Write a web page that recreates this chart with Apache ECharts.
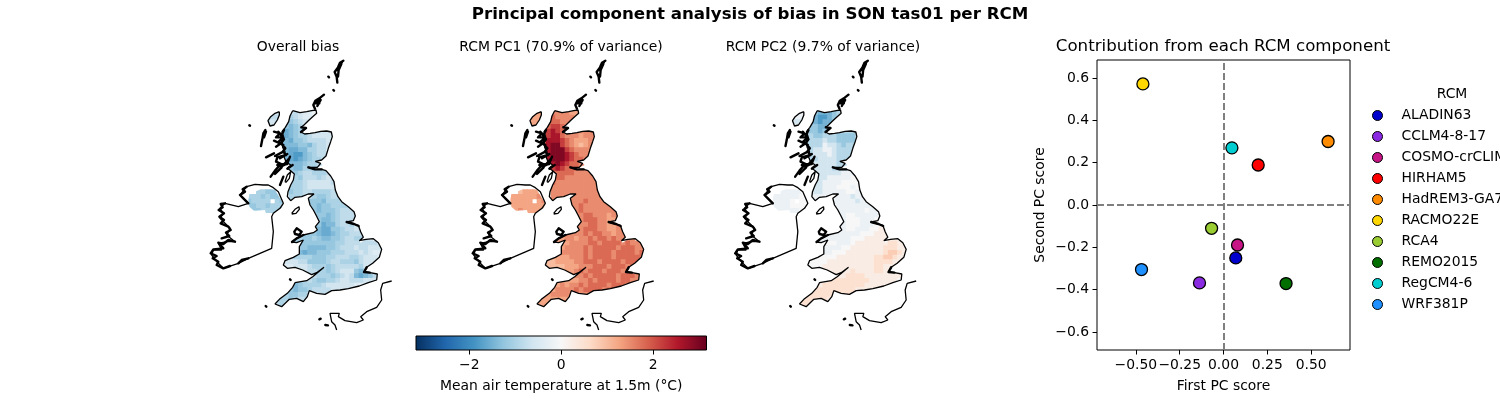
<!DOCTYPE html>
<html><head><meta charset="utf-8">
<style>html,body{margin:0;padding:0;background:#fff}#c{width:1500px;height:400px}</style>
<script src="https://cdn.jsdelivr.net/npm/echarts@6/dist/echarts.min.js"></script>
</head><body><div id="c"></div>
<script>
// ---- scatter data ----
const rcmNames=["ALADIN63","CCLM4-8-17","COSMO-crCLIM","HIRHAM5","HadREM3-GA7-05","RACMO22E","RCA4","REMO2015","RegCM4-6","WRF381P"];
const rcmColors=["#0000cd","#8a2be2","#c71585","#ff0000","#ff8c00","#ffd700","#9acd32","#006f00","#00ced1","#1e90ff"];
const pc1Scores=[0.07,-0.137,0.08,0.198,0.597,-0.46,-0.068,0.357,0.048,-0.468];
const pc2Scores=[-0.25,-0.368,-0.189,0.189,0.30,0.572,-0.11,-0.371,0.27,-0.305];
const xTicks=[-0.5,-0.25,0,0.25,0.5];
const yTicks=[-0.6,-0.4,-0.2,0,0.2,0.4,0.6];
const barTicks=[-2,0,2];
const rdbu=["#053061","#2166ac","#4393c3","#92c5de","#d1e5f0","#f7f7f7","#fddbc7","#f4a582","#d6604d","#b2182b","#67001f"];
// ---- gridded fields: class digit per cell, one string per row ----
const gbStart=[9,9,8,8,7,7,7,7,7,8,8,8,8,9,9,9,9,9,9,9,13,13,14,14,14,14,10,9,9,11,11,9,8,8,11,13,10,9,8,7,6,6];
const overallGB=["3432210","543221","565433","676544","787654444333","787655433333","778665444433","67776675443","67887755443","7899765443","789876554","677765544","5677556544","565445554","5564445433","5554333334","55543333334","65544555545","555445665445","555566675554","6676655554","66766654444","6667654444","66776544444","66877544533","778866544343","5566678876554443","555665677665445543","666666666655444444433","667777665444344333","7877666555444343222","455556665544455433322","333446666544555643332","2233345556544444533","334455654333676","345556543478764","555456655433444333","67655554333333222","567665444433333","4566554444","5556544","4544444"];
const pc1GB=["5555444","655554","666555","677655","678765555555","678865554555","688876544455","78997654345","78999765555","8999876555","899987665","889876655","7787666555","666665555","6665555555","6555555555","55555555555","55555555555","555555555555","555555565555","5565555555","55655555555","5566555455","55666554455","55566554455","556665544555","4455556566554555","444554556566565555","444455556656666565555","455556566666566655","5555565666656666565","444455565666656666665","334444556665666656665","3333444555666566656","444565666566656","555656666656665","444445565666656655","445455656666566655","445555656666566","4455555555","4444444","4444444"];
const pc2GB=["2111234","100123","210112","221112","322122333333","332233322223","333343322223","33335443233","33445543333","3444543333","334444333","444444333","5444433333","444444555","4445555566","4455556666","44555666566","44555556656","555555554555","555555555455","5555555555","55555556555","5566555555","55666555666","55666555666","556655566777","5555555556667777","555555556667777777","555665556777777788777","555566777777788877","5566677777777899877","666667777777788998776","666677777777778888776","6667777777777788777","777777877778877","777888877777777","778888888887777776","778888888887777777","888888888877777","8888888888","8888887","8888777"];
const niStart=[2,0,0,0,1];
const overallNI=["55666","55565665","65555.56","66556555","665555"];
const pc1NI=["34444","44444454","44444.45","44444444","454444"];
const pc2NI=["55555","55555565","55556.66","55556666","555556"];
const lewisStart=[4,4,4,4];
const overallLewis=["333","444","434","333"];
const pc1Lewis=["444","344","444","444"];
const pc2Lewis=["555","555","444","555"];
// class digit -> value (degC) for each panel
const overallLevels=[0,-0.2,-0.4,-0.6,-0.8,-1.0,-1.2,-1.4,-1.6,-1.8];
const pc1Levels=[0,0.3,0.6,1.0,1.25,1.5,1.8,2.2,2.6,2.95];
const pc2Levels=[-1.8,-1.5,-1.2,-0.9,-0.6,-0.2,0,0.25,0.5,0.8];
// ---- coastlines, in map units ----
const gbCoast=[[278,182],[300,188],[320,185],[335,182],[348,180],[350,190],[338,200],[325,212],[312,225],[304,232],[318,234],[303,246],[314,252],[330,250],[345,248],[362,244],[380,243],[394,246],[397,260],[392,275],[385,295],[378,318],[365,330],[346,334],[362,340],[368,345],[352,352],[325,352],[345,358],[365,358],[378,362],[392,378],[402,395],[406,420],[414,440],[425,455],[445,470],[462,485],[466,498],[460,512],[440,516],[462,522],[475,526],[482,545],[490,562],[478,572],[482,578],[498,568],[520,566],[535,578],[545,598],[538,622],[518,640],[500,652],[492,666],[510,668],[532,672],[530,690],[505,698],[478,708],[445,716],[420,720],[395,722],[375,733],[350,730],[328,722],[322,740],[310,755],[290,745],[268,748],[245,770],[225,762],[238,748],[262,730],[278,712],[285,698],[320,692],[338,680],[372,652],[350,668],[335,674],[308,660],[285,652],[262,655],[250,645],[255,632],[280,622],[298,612],[298,590],[310,570],[290,578],[276,576],[290,565],[310,555],[340,548],[352,540],[346,530],[358,515],[348,495],[340,480],[330,465],[325,445],[342,432],[325,432],[305,440],[285,442],[272,452],[262,440],[264,425],[272,405],[280,390],[283,372],[272,362],[262,355],[272,345],[258,335],[252,320],[255,305],[248,292],[246,275],[250,258],[246,245],[256,232],[266,215],[270,198],[278,182]];
const niClip=[[145,450],[148,432],[165,425],[185,416],[210,414],[225,420],[240,445],[250,460],[245,475],[235,480],[218,490],[198,490],[195,480],[162,482],[148,470],[145,450]];
const irelandCoast=[[140,410],[165,403],[190,405],[205,405],[220,413],[235,425],[250,460],[240,475],[220,490],[215,500],[220,545],[215,595],[180,610],[145,625],[115,640],[70,655],[55,640],[35,615],[40,600],[65,600],[55,580],[80,575],[105,575],[80,555],[90,535],[60,505],[70,490],[60,475],[75,460],[115,470],[145,460],[120,435],[140,410]];
const franceCoast=[[575,693],[548,700],[542,720],[545,750],[530,772],[500,785],[482,800],[490,810],[470,818],[435,812],[415,800],[418,790],[390,790],[395,815],[405,825],[410,840]];
const manCoast=[[275,490],[285,478],[297,470],[298,478],[288,490],[275,492]];
const lewisCoast=[[238,185],[225,190],[212,200],[204,212],[210,228],[222,225],[232,210],[238,195],[238,185]];
const kintyreCoast=[[255,395],[262,375],[272,365],[268,385],[258,397],[255,395]];
const isleBlobs=[
 [[430,32],[420,38],[414,52],[404,66],[402,72],[410,80],[412,98]],[[424,42],[416,60],[414,80]],[[426,36],[410,60]],
 [[372,134],[358,145],[346,152],[340,165],[345,176]],[[350,155],[362,150],[352,168]],[[345,160],[358,160]],
 [[196,240],[190,250],[187,268],[183,288]],[[198,245],[192,262]],
 [[222,245],[240,250],[228,262],[250,262],[236,275],[250,285],[222,272]],[[235,245],[245,258]],[[228,290],[243,280]],
 [[198,322],[222,310]],[[225,318],[250,305],[258,315],[232,322],[228,335],[250,345],[268,325]],[[240,325],[262,312]],[[232,345],[255,342]],
 [[212,380],[225,362],[240,345],[262,342]],[[225,372],[245,352]],[[242,350],[262,340],[270,320]],[[262,356],[278,345]],[[240,405],[250,380]],
 [[252,240],[245,255],[252,268],[243,280],[256,295],[248,305]],
 [[283,545],[290,535],[305,545],[298,555],[285,552],[283,545]],
 [[440,516],[462,522],[476,528]],[[500,652],[492,666],[510,668]],[[325,352],[345,358],[365,358]],[[304,232],[318,234],[303,246]],
 [[276,576],[290,565],[310,555]],
 [[385,80],[387,82]],[[400,120],[402,122]],[[148,226],[150,227]],[[197,768],[199,770]],[[270,688],[272,690]],
 [[358,808],[362,806]],[[376,825],[384,826]],[[375,805],[376,806]],
 [[140,410],[128,418],[135,425],[120,435],[130,445],[145,460]],
 [[75,460],[62,462],[68,472],[56,480],[72,490],[58,500],[72,510],[62,520],[85,530],[92,540],[78,548],[88,558],[65,565]],
 [[105,575],[85,570],[70,582],[55,578],[70,595],[40,598],[32,610],[50,618],[38,625],[55,635],[50,645],[70,655],[90,648]],
 [[115,640],[125,630],[145,625]]
];
// ---- helpers ----
const FONT="DejaVu Sans";
const mapLeft=[200,462,724.5];
const vRange=3.16;
function cells(starts,rows,firstRow,levels){
  const out=[];
  rows.forEach((s,r)=>{for(let k=0;k<s.length;k++){if(s[k]!=='.')out.push([starts[r]+k,firstRow+r,levels[+s[k]]]);}});
  return out;
}
const fields=[
 {gb:cells(gbStart,overallGB,0,overallLevels),ni:cells(niStart,overallNI,17,overallLevels),lw:cells(lewisStart,overallLewis,0,overallLevels)},
 {gb:cells(gbStart,pc1GB,0,pc1Levels),ni:cells(niStart,pc1NI,17,pc1Levels),lw:cells(lewisStart,pc1Lewis,0,pc1Levels)},
 {gb:cells(gbStart,pc2GB,0,pc2Levels),ni:cells(niStart,pc2NI,17,pc2Levels),lw:cells(lewisStart,pc2Lewis,0,pc2Levels)}
];
function cellColor(v){return echarts.color.lerp((v+vRange)/(2*vRange),rdbu);}
function joinLines(list){const o=[];list.forEach((l,i)=>{if(i)o.push([NaN,NaN]);l.forEach(p=>o.push(p));});return o;}
const CELL=14,X0=140,Y0=180;
function cellSeries(data,clip,gi){
  let clipPts=null;
  return {type:'custom',xAxisIndex:gi,yAxisIndex:gi,silent:true,animation:false,data:data,z:2,
    encode:{x:0,y:1},
    renderItem:function(p,api){
      const i=api.value(0),j=api.value(1),v=api.value(2);
      const a=api.coord([X0+CELL*i,Y0+CELL*j]),b=api.coord([X0+CELL*(i+1),Y0+CELL*(j+1)]);
      if(!clipPts)clipPts=clip.map(q=>api.coord(q));
      return {type:'rect',shape:{x:a[0],y:a[1],width:b[0]-a[0]+0.6,height:b[1]-a[1]+0.6},
        style:{fill:cellColor(v),stroke:null},clipPath:{type:'polygon',shape:{points:clipPts}}};
    }};
}
const grids=[],xAxes=[],yAxes=[],series=[];
mapLeft.forEach((l,gi)=>{
  grids.push({left:l,top:50,width:200,height:290,containLabel:false});
  xAxes.push({type:'value',gridIndex:gi,min:0,max:600,show:false});
  yAxes.push({type:'value',gridIndex:gi,min:0,max:870,inverse:true,show:false});
  series.push(cellSeries(fields[gi].gb,gbCoast,gi));
  series.push(cellSeries(fields[gi].ni,niClip,gi));
  series.push(cellSeries(fields[gi].lw,lewisCoast,gi));
  const thin={type:'line',xAxisIndex:gi,yAxisIndex:gi,silent:true,animation:false,showSymbol:false,z:3,connectNulls:false,
     data:joinLines([gbCoast,irelandCoast,franceCoast,manCoast,lewisCoast,kintyreCoast]),
     lineStyle:{color:'#000',width:1.3},itemStyle:{color:'#000'}};
  const thick={type:'line',xAxisIndex:gi,yAxisIndex:gi,silent:true,animation:false,showSymbol:false,z:3,connectNulls:false,
     data:joinLines(isleBlobs),lineStyle:{color:'#000',width:2.4,cap:'round',join:'round'},itemStyle:{color:'#000'}};
  series.push(thin,thick);
});
// colour bar grid (index 3)
grids.push({left:416,top:336,width:290.5,height:14,show:true,borderColor:'#000',borderWidth:1,backgroundColor:'transparent',z:5});
const minusFmt=d=>v=>(v<0?'\u2212':'')+Math.abs(v).toFixed(d);
const axisText={color:'#000',fontFamily:FONT,fontSize:13.9};
xAxes.push({type:'value',gridIndex:3,min:-vRange,max:vRange,splitLine:{show:false},
  axisLine:{show:false,onZero:false},axisTick:{show:true,length:4.5,lineStyle:{color:'#000',width:1},customValues:barTicks},
  axisLabel:Object.assign({customValues:barTicks,formatter:minusFmt(0),margin:8},axisText),
  name:'Mean air temperature at 1.5m (\u00b0C)',nameLocation:'middle',nameGap:29,nameTextStyle:axisText});
yAxes.push({type:'value',gridIndex:3,min:0,max:1,show:false});
series.push({type:'custom',xAxisIndex:3,yAxisIndex:3,silent:true,animation:false,z:2,data:[[-vRange,vRange]],
  renderItem:function(p,api){
    const a=api.coord([api.value(0),1]),b=api.coord([api.value(1),0]);
    return {type:'rect',shape:{x:a[0],y:a[1],width:b[0]-a[0],height:b[1]-a[1]},
      style:{fill:new echarts.graphic.LinearGradient(0,0,1,0,rdbu.map((c,i)=>({offset:i/10,color:c})))}};
  }});
// scatter grid (index 4)
grids.push({left:1097,top:60,width:253,height:290,show:true,borderColor:'#000',borderWidth:1,backgroundColor:'transparent'});
const xSpan=0.722, ySpan=0.685;
xAxes.push({type:'value',gridIndex:4,min:-xSpan,max:xSpan,splitLine:{show:false},
  axisLine:{show:false,onZero:false},axisTick:{show:true,length:4.5,lineStyle:{color:'#000'},customValues:xTicks},
  axisLabel:Object.assign({customValues:xTicks,formatter:minusFmt(2),margin:8},axisText),
  name:'First PC score',nameLocation:'middle',nameGap:29,nameTextStyle:axisText});
yAxes.push({type:'value',gridIndex:4,min:-ySpan,max:ySpan,splitLine:{show:false},
  axisLine:{show:false,onZero:false},axisTick:{show:true,length:4.5,lineStyle:{color:'#000'},customValues:yTicks},
  axisLabel:Object.assign({customValues:yTicks,formatter:minusFmt(1),margin:8},axisText),
  name:'Second PC score',nameLocation:'middle',nameGap:50,nameRotate:90,nameTextStyle:axisText});
rcmNames.forEach((n,i)=>{
  const s={type:'scatter',name:n,xAxisIndex:4,yAxisIndex:4,animation:false,silent:true,z:6,symbol:'circle',symbolSize:12,
    data:[[pc1Scores[i],pc2Scores[i]]],itemStyle:{color:rcmColors[i],borderColor:'#000',borderWidth:1.3,opacity:1}};
  if(i===0){s.markLine={silent:true,symbol:'none',animation:false,label:{show:false},
     lineStyle:{color:'#7f7f7f',width:2,type:[7,3]},data:[{xAxis:0},{yAxis:0}]};}
  series.push(s);
});
function t(text,x,y,size,weight){return {text:text,left:x,top:y,textAlign:'center',textVerticalAlign:'middle',padding:0,
  textStyle:{fontFamily:FONT,fontSize:size,fontWeight:weight||'normal',color:'#000'}};}
const option={
  animation:false,backgroundColor:'#fff',
  title:[
    t('Principal component analysis of bias in SON tas01 per RCM',750,15,16.67,'bold'),
    t('Overall bias',298,47.5,13.9),
    t('RCM PC1 (70.9% of variance)',561,47.5,13.9),
    t('RCM PC2 (9.7% of variance)',823,47.5,13.9),
    t('Contribution from each RCM component',1223,47,16.67),
    t('RCM',1452,94.5,13.9)
  ],
  grid:grids,xAxis:xAxes,yAxis:yAxes,series:series,
  legend:{data:rcmNames,orient:'vertical',left:1372,top:108,padding:0,icon:'circle',itemWidth:10,itemHeight:10,itemGap:6,
    itemStyle:{borderColor:'#000',borderWidth:1},
    textStyle:{fontFamily:FONT,fontSize:13.9,color:'#000',padding:[0,0,0,14],lineHeight:15},selectedMode:false}
};
const chart=echarts.init(document.getElementById('c'),null,{renderer:'canvas'});
chart.setOption(option);
</script></body></html>
